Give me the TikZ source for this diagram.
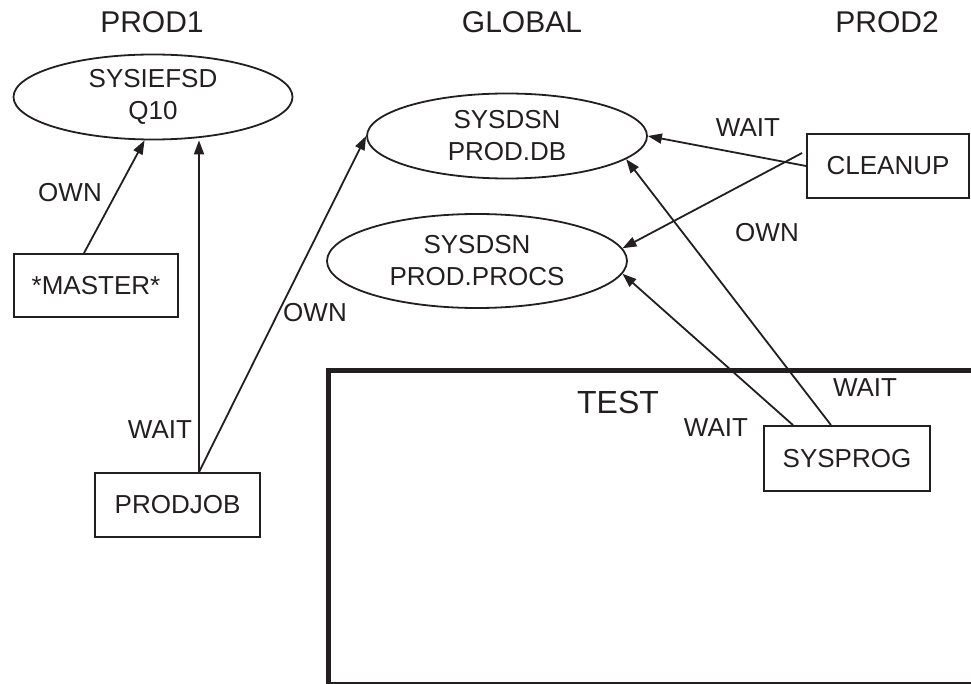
\documentclass[tikz,border=0pt]{standalone}
\usepackage{fontspec}
\setmainfont{Liberation Sans}
\usetikzlibrary{shapes.geometric,arrows.meta,calc}
\definecolor{ink}{HTML}{231F20}
\begin{document}
\begin{tikzpicture}[x=1pt,y=-1pt,
 every node/.style={text=ink},
 lbl/.style={font=\fontsize{26}{32}\selectfont, inner sep=0pt},
 hdr/.style={font=\fontsize{30}{36}\selectfont, inner sep=0pt},
 res/.style={ellipse, draw=ink, line width=1.8pt, inner sep=0pt, align=center, font=\fontsize{26}{32}\selectfont},
 job/.style={rectangle, draw=ink, line width=1.8pt, inner sep=0pt, font=\fontsize{26}{32}\selectfont},
 conn/.style={draw=ink, line width=1.8pt, -{Triangle[length=14pt,width=10pt]}}]
\useasboundingbox (0,0) rectangle (971,684);
% headers
\node[hdr] (p1) at (152,22) {PROD1};
\node[hdr] (gl) at (522,22) {GLOBAL};
\node[hdr] (p2) at (887,22) {PROD2};
% resources
\node[res, minimum width=279, minimum height=85] (q10) at (153,97) {SYSIEFSD\\Q10};
\node[res, minimum width=280, minimum height=85] (db) at (507,136) {SYSDSN\\PROD.DB};
\node[res, minimum width=300, minimum height=94] (procs) at (477,261) {SYSDSN\\PROD.PROCS};
% jobs
\node[job, minimum width=164, minimum height=63] (master) at (96,285.5) {*MASTER*};
\node[job, minimum width=165, minimum height=64] (prodjob) at (177.5,505) {PRODJOB};
\node[job, minimum width=162, minimum height=64] (cleanup) at (888,166) {CLEANUP};
\node[job, minimum width=166, minimum height=65] (sysprog) at (847,458.5) {SYSPROG};
% TEST frame
\draw[draw=ink, line width=5pt] (980,370.5) -- (328,370.5) -- (328,684) -- (980,684);
\node[font=\fontsize{32}{38}\selectfont, inner sep=0pt] (test) at (618,402) {TEST};
% connectors
\coordinate (mtop) at ($(master.north)+(-12,0)$);
\coordinate (pjtop) at ($(prodjob.north)+(21.5,0)$);
\coordinate (cla) at ($(cleanup.west)+(-4,-13)$);
\coordinate (spa) at ($(sysprog.north)+(-54,0)$);
\coordinate (spb) at ($(sysprog.north)+(-16,0)$);
\draw[conn] (mtop) -- (q10.-101);
\draw[conn] (pjtop) -- (pjtop |- q10.south);
\draw[conn] (pjtop) -- (db.west);
\draw[conn] (cleanup.west) -- (db.east);
\draw[conn] (cla) -- (procs.5);
\draw[conn] (spb) -- (db.-11);
\draw[conn] (spa) -- (procs.-5);
% labels
\node[lbl] (l1) at (70,193) {OWN};
\node[lbl] (l2) at (160,430) {WAIT};
\node[lbl] (l3) at (315,313) {OWN};
\node[lbl] (l4) at (748,128) {WAIT};
\node[lbl] (l5) at (767,233) {OWN};
\node[lbl] (l6) at (716,428) {WAIT};
\node[lbl] (l7) at (865,388) {WAIT};
\end{tikzpicture}
\end{document}
